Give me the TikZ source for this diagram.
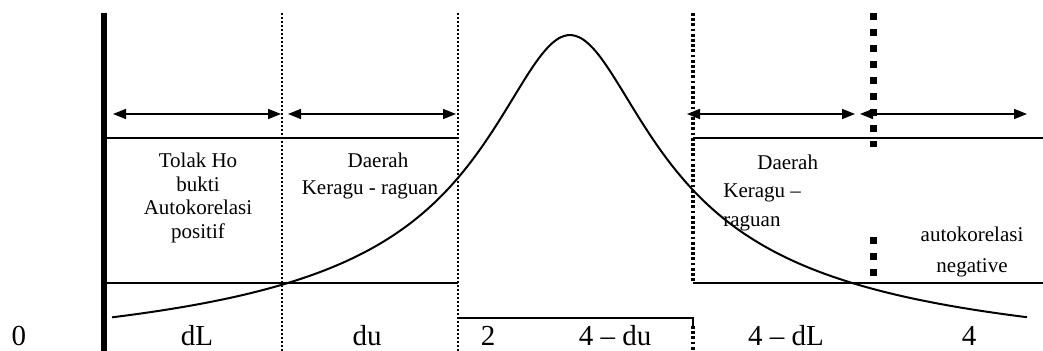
\documentclass[tikz,border=0pt]{standalone}
\usepackage{fontspec}
\setmainfont{Liberation Serif}
\usetikzlibrary{arrows.meta}
\begin{document}
\begin{tikzpicture}[x=0.5pt,y=-0.5pt,
  hline/.style={line width=1.3pt},
  wall/.style={line width=3pt},
  thinsep/.style={line width=1pt, dash pattern=on 1pt off 1pt},
  medsep/.style={line width=1.6pt, dash pattern=on 1.4pt off 1.2pt},
  bigsep/.style={line width=3.5pt, dash pattern=on 3.5pt off 4.5pt},
  span/.style={line width=0.8pt, {Triangle[length=6.5pt,width=5pt]}-{Triangle[length=6.5pt,width=5pt]}},
  curve/.style={line width=1pt},
  lbl/.style={inner sep=0pt, anchor=base, font=\fontsize{10.5}{12}\selectfont},
  lbll/.style={inner sep=0pt, anchor=base west, font=\fontsize{10.5}{12}\selectfont},
  axl/.style={inner sep=0pt, anchor=base, font=\fontsize{14.5}{16}\selectfont},
]
\useasboundingbox (0,0) rectangle (1043,351);

% vertical separators
\coordinate (w1) at (104,13);    \coordinate (w2) at (104,351);
\coordinate (d1a) at (282,13);   \coordinate (d1b) at (282,351);
\coordinate (d2a) at (458,13);   \coordinate (d2b) at (458,351);
\coordinate (d3a) at (693,13);   \coordinate (d3b) at (693,281);
\coordinate (d3c) at (693,326);  \coordinate (d3d) at (693,351);
\coordinate (d4a) at (873,13);   \coordinate (d4b) at (873,147);
\coordinate (d4c) at (873,237);  \coordinate (d4d) at (873,277);

\draw[wall] (w1) -- (w2);
\draw[thinsep] (d1a) -- (d1b);
\draw[thinsep] (d2a) -- (d2b);
\draw[medsep] (d3a) -- (d3b);
\draw[medsep] (d3c) -- (d3d);
\draw[bigsep] (d4a) -- (d4b);
\draw[bigsep] (d4c) -- (d4d);

% horizontal lines
\coordinate (u1) at (104,138);   \coordinate (u2) at (458,138);
\coordinate (u3) at (693,138);   \coordinate (u4) at (1043,138);
\coordinate (l1) at (104,283);   \coordinate (l2) at (458,283);
\coordinate (l3) at (693,283);   \coordinate (l4) at (1043,283);
\coordinate (b1) at (458,318);   \coordinate (b2) at (693,318);
\draw[hline] (u1) -- (u2);
\draw[hline] (u3) -- (u4);
\draw[hline] (l1) -- (l2);
\draw[hline] (l3) -- (l4);
\draw[hline] (b1) -- (b2) -- (d3c);

% arrows
\coordinate (a1) at (113,114);  \coordinate (a2) at (281,114);
\coordinate (a3) at (288,114);  \coordinate (a4) at (456,114);
\coordinate (a5) at (687,114);  \coordinate (a6) at (855,114);
\coordinate (a7) at (860,114);  \coordinate (a8) at (1027,114);
\draw[span] (a1) -- (a2);
\draw[span] (a3) -- (a4);
\draw[span] (a5) -- (a6);
\draw[span] (a7) -- (a8);

% bell curve
\draw[curve] plot[domain=112:1027, samples=240, smooth]
  (\x, {35+341*(1-1/sqrt(1+((\x-570)/80)^2))});

% region texts
\node[lbl] (t1) at (198,168) {Tolak Ho};
\node[lbl] (t2) at (198,191.5) {bukti};
\node[lbl] (t3) at (198,215) {Autokorelasi};
\node[lbl] (t4) at (198,238.5) {positif};

\node[lbl] (k1) at (378,168) {Daerah};
\node[lbl] (k2) at (370,195) {Keragu - raguan};

\node[lbll] (r1) at (757,170) {Daerah};
\node[lbll] (r2) at (723,198) {Keragu \textendash};
\node[lbll] (r3) at (723,227) {raguan};

\node[lbl] (n1) at (972,242) {autokorelasi};
\node[lbl] (n2) at (972,273) {negative};

% axis labels
\node[axl] (x0) at (19,346) {0};
\node[axl] (x1) at (197,346) {dL};
\node[axl] (x2) at (367,346) {du};
\node[axl] (x3) at (488,346) {2};
\node[axl] (x4) at (615,346) {4 \textendash{} du};
\node[axl] (x5) at (786,346) {4 \textendash{} dL};
\node[axl] (x6) at (969,346) {4};
\end{tikzpicture}
\end{document}
